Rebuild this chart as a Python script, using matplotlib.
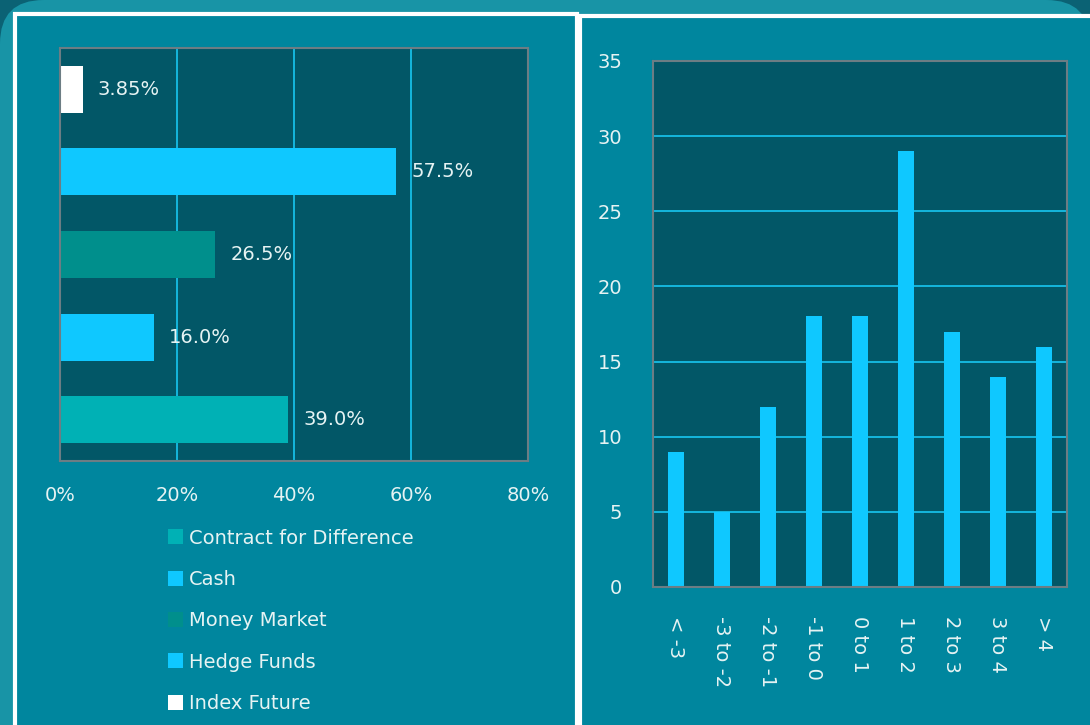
import numpy as np
import matplotlib.pyplot as plt
from matplotlib.patches import Rectangle, FancyBboxPatch

# left chart: allocation by asset type (bottom to top, as drawn by Excel)
assets = ['Contract for Difference', 'Cash', 'Money Market', 'Hedge Funds', 'Index Future']
weights = [39.0, 16.0, 26.5, 57.5, 3.85]
weight_labels = ['39.0%', '16.0%', '26.5%', '57.5%', '3.85%']
asset_colors = ['#00b1b5', '#0fc8ff', '#008f8c', '#0fc8ff', '#ffffff']

# right chart: return distribution
bins = ['< -3', '-3 to -2', '-2 to -1', '-1 to 0', '0 to 1', '1 to 2', '2 to 3', '3 to 4', '> 4']
counts = [9, 5, 12, 18, 18, 29, 17, 14, 16]

W, H = 1090, 725
txt = '#e6f3f3'
plot_bg = '#025767'
panel_bg = '#00869e'
grid_c = '#17bde6'
spine_c = '#6c7d84'
fam = ['DejaVu Sans']
fs = 14

fig = plt.figure(figsize=(W / 100, H / 100), dpi=100)
fig.patch.set_facecolor('#0b6274')


def fx(px):
    return px / W


def fy(py):
    return 1 - py / H


# background and the two panels
bg = FancyBboxPatch((fx(0), fy(1000)), 1.0, fy(0) - fy(1000), boxstyle='round,pad=0,rounding_size=0.04',
                    transform=fig.transFigure, facecolor='#1894a6', edgecolor='none', zorder=-3,
                    mutation_aspect=W / H)
fig.patches.append(bg)
fig.patches.append(Rectangle((fx(15), fy(740)), fx(577) - fx(15), fy(14) - fy(740), transform=fig.transFigure,
                             facecolor=panel_bg, edgecolor='white', lw=3, zorder=-2))
fig.patches.append(Rectangle((fx(580), fy(740)), fx(1100) - fx(580), fy(16) - fy(740), transform=fig.transFigure,
                             facecolor=panel_bg, edgecolor='white', lw=3, zorder=-2))

# ---- left: horizontal bars ----
ax1 = fig.add_axes([fx(60), fy(461), fx(528) - fx(60), fy(48) - fy(461)])
ax1.set_facecolor(plot_bg)
y = np.arange(len(assets))
bars = ax1.barh(y, weights, height=0.57, color=asset_colors, zorder=3)
for b, lab in zip(bars, weight_labels):
    ax1.annotate(lab, (b.get_width(), b.get_y() + b.get_height() / 2), xytext=(11, 0), textcoords='offset points',
                 va='center', ha='left', color=txt, fontsize=fs, family=fam, zorder=4)
ax1.set_xlim(0, 80)
ax1.set_ylim(-0.5, len(assets) - 0.5)
ax1.set_xticks([0, 20, 40, 60, 80])
ax1.set_xticklabels(['0%', '20%', '40%', '60%', '80%'])
ax1.set_yticks([])
ax1.grid(True, axis='x', color=grid_c, lw=1.3, zorder=1)
ax1.tick_params(axis='x', length=0, pad=18, labelcolor=txt, labelsize=fs)
for s in ax1.spines.values():
    s.set_color(spine_c)
    s.set_linewidth(1.5)
    s.set_zorder(5)
for t in ax1.get_xticklabels():
    t.set_family(fam)

leg = fig.legend(list(bars), assets, loc='upper left', bbox_to_anchor=(fx(150), fy(511)), frameon=False,
                 handlelength=0.8, handleheight=0.8, handletextpad=0.3, labelspacing=1.15,
                 prop={'family': fam, 'size': fs})
for t in leg.get_texts():
    t.set_color(txt)

# ---- right: vertical bars ----
ax2 = fig.add_axes([fx(653), fy(587), fx(1067) - fx(653), fy(61) - fy(587)])
ax2.set_facecolor(plot_bg)
x = np.arange(len(bins))
ax2.bar(x, counts, width=0.35, color='#0fc8ff', zorder=3)
ax2.set_xlim(-0.5, len(bins) - 0.5)
ax2.set_ylim(0, 35)
ax2.set_yticks(np.arange(0, 36, 5))
ax2.set_xticks(x)
ax2.set_xticklabels(bins, rotation=270, va='top', ha='center')
ax2.grid(True, axis='y', color=grid_c, lw=1.3, zorder=1)
ax2.tick_params(axis='y', length=0, pad=22, labelcolor=txt, labelsize=fs)
ax2.tick_params(axis='x', length=0, pad=21, labelcolor=txt, labelsize=fs)
for s in ax2.spines.values():
    s.set_color(spine_c)
    s.set_linewidth(1.5)
    s.set_zorder(5)
for t in ax2.get_xticklabels() + ax2.get_yticklabels():
    t.set_family(fam)

fig.savefig('out.png', dpi=100, facecolor=fig.get_facecolor())
